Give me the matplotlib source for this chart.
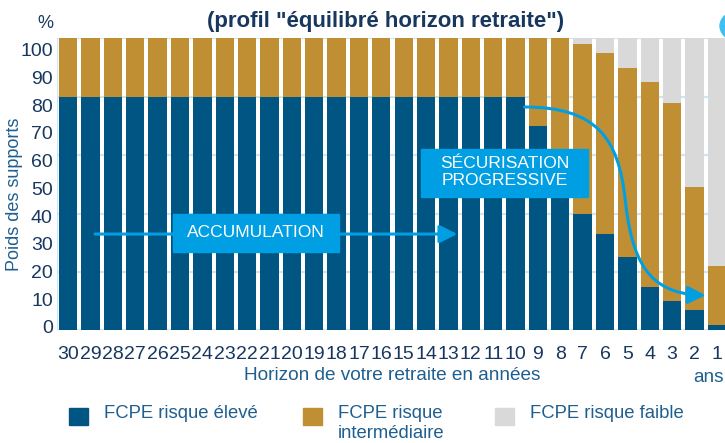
import matplotlib
matplotlib.use("Agg")
import matplotlib.pyplot as plt
from matplotlib.patches import Rectangle, FancyArrowPatch, Circle
from matplotlib.path import Path

plt.rcParams['font.family'] = ['Liberation Sans', 'DejaVu Sans']

# Years left before retirement
horizons = [30, 29, 28, 27, 26, 25, 24, 23, 22, 21, 20, 19, 18, 17, 16,
            15, 14, 13, 12, 11, 10, 9, 8, 7, 6, 5, 4, 3, 2, 1]
# Weight of each fund (%)
risque_eleve = [80] * 21 + [70, 55, 40, 33, 25, 15, 10, 7, 2]
risque_inter = [20] * 21 + [30, 45, 58, 62, 65, 70, 68, 42, 20]
risque_faible = [0] * 21 + [0, 0, 2, 5, 10, 15, 22, 51, 78]
ytick_vals = list(range(0, 101, 10))

c_high = "#005582"
c_mid = "#C18F33"
c_low = "#D9D9D9"
c_cyan = "#009FE3"
navy = "#17375E"
midblue = "#1F5F8F"

fig = plt.figure(figsize=(7.25, 4.43), dpi=100)
ax = fig.add_axes([57 / 725, 1 - 330.4 / 443, 671 / 725, 292 / 443])

x = list(range(len(horizons)))
bottom2 = risque_eleve
bottom3 = [a + b for a, b in zip(risque_eleve, risque_inter)]
ax.bar(x, risque_eleve, width=0.82, color=c_high, zorder=2)
ax.bar(x, risque_inter, width=0.82, bottom=bottom2, color=c_mid, zorder=2)
ax.bar(x, risque_faible, width=0.82, bottom=bottom3, color=c_low, zorder=2)

ax.set_xlim(-0.5, len(horizons) - 0.5)
ax.set_ylim(0, 100)
# the source's value labels sit slightly compressed against the grid
ax.set_yticks([1.2 + v * 0.949 for v in ytick_vals])
ax.set_yticklabels([str(v) for v in ytick_vals])
ax.set_xticks(x)
ax.set_xticklabels([str(h) for h in horizons])
ax.tick_params(axis='both', length=0, labelsize=14, colors=navy)
ax.tick_params(axis='x', pad=11)
ax.tick_params(axis='y', pad=3)

# light blue grid every 20
for g in range(0, 101, 20):
    ax.axhline(g, color="#CDE6F6", lw=1.6, zorder=1)
for s in ax.spines.values():
    s.set_visible(False)
ax.axvline(-0.5, color="#CDE6F6", lw=1.6, zorder=1)

fig.text(15 / 725, 1 - 194 / 443, "Poids des supports", rotation=90,
         ha='center', va='center', fontsize=13, color=midblue)
fig.text(392 / 725, 1 - 376 / 443, "Horizon de votre retraite en années",
         ha='center', va='center', fontsize=13.7, color=midblue)
fig.text(708 / 725, 1 - 377 / 443, "ans", ha='center', va='center',
         fontsize=13.7, color=midblue)
fig.text(45 / 725, 1 - 23 / 443, "%", ha='center', va='center',
         fontsize=13, color=navy)
fig.text(386 / 725, 1 - 22 / 443, '(profil "équilibré horizon retraite")',
         ha='center', va='center', fontsize=16, fontweight='bold', color=navy)

# ACCUMULATION arrow and box
ax.annotate("", xy=(17.4, 33), xytext=(1.2, 33), zorder=3,
            arrowprops=dict(arrowstyle='-|>,head_length=0.4,head_width=0.2',
                            mutation_scale=27, lw=2.2, color=c_cyan,
                            shrinkA=0, shrinkB=0))
ax.add_patch(Rectangle((4.68, 27.0), 7.43, 12.9, color=c_cyan, zorder=4))
ax.text(8.4, 33.4, "ACCUMULATION", ha='center', va='center',
        fontsize=12.5, color='white', zorder=5)

# SECURISATION curved arrow and box
verts = [(20.4, 76.5), (23.6, 76.5), (24.6, 66), (24.9, 45),
         (25.2, 24), (25.9, 12.5), (28.5, 12)]
codes = [Path.MOVETO, Path.CURVE4, Path.CURVE4, Path.CURVE4,
         Path.CURVE4, Path.CURVE4, Path.CURVE4]
arr = FancyArrowPatch(path=Path(verts, codes),
                      arrowstyle='-|>,head_length=0.4,head_width=0.2',
                      mutation_scale=27, lw=2.2, color=c_cyan, zorder=3)
ax.add_patch(arr)
ax.add_patch(Rectangle((15.77, 45.7), 7.46, 16.4, color=c_cyan, zorder=4))
ax.text(19.5, 54.2, "SÉCURISATION\nPROGRESSIVE", ha='center', va='center',
        fontsize=12.5, color='white', linespacing=1.15, zorder=5)

# legend drawn by hand
leg = [(69, c_high, "FCPE risque élevé"),
       (303, c_mid, "FCPE risque\nintermédiaire"),
       (495, c_low, "FCPE risque faible")]
for px, col, lab in leg:
    fig.patches.append(Rectangle((px / 725, 1 - 425 / 443), 19 / 725, 17 / 443,
                                 color=col, transform=fig.transFigure))
    fig.text((px + 35) / 725, 1 - 405 / 443, lab, ha='left', va='top',
             fontsize=13.3, color=midblue, linespacing=1.2)

# logo fragment in top right corner
fig.patches.append(Circle((752 / 725, 1 - 26 / 443), 32 / 725, color="#3CC0F0",
                          transform=fig.transFigure))

fig.savefig("out.png", dpi=100)
